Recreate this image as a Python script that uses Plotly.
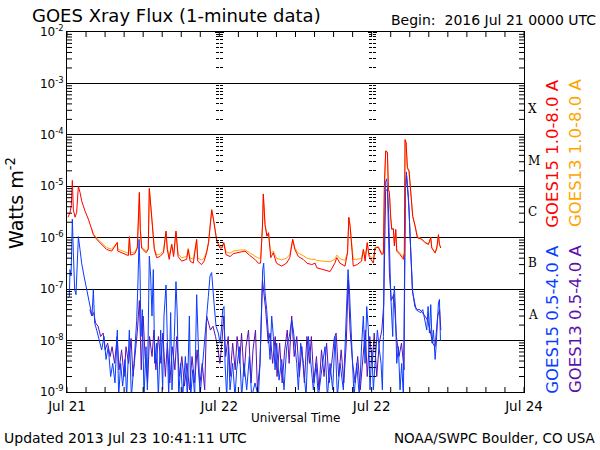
import math
import plotly.graph_objects as go

# hours since 2016 Jul 21 00:00 UTC, flux in W m^-2
# long channel (1.0-8.0 A): GOES15 red, GOES13 orange (starts ~03:50)
t_long = [0.16, 0.47, 0.68, 0.84, 1.0, 1.26, 1.52, 1.79, 2.05, 2.31, 2.84, 3.36,
          3.89, 4.15, 4.68, 5.46, 6.25, 7.04, 7.93, 8.0, 8.88, 9.67, 9.83, 10.0,
          10.7, 11.08, 11.4, 11.55, 11.76, 12.45, 12.8, 12.97, 13.2, 13.5, 13.76, 14.13,
          14.65, 15.2, 15.6, 15.8, 16.1, 16.5, 16.8, 17.17, 17.5, 18.07, 18.85, 19.1,
          19.4, 19.9, 20.43, 20.6, 21.2, 21.6, 22.0, 22.3, 22.8, 23.07, 23.3, 23.6,
          23.85, 24.1, 24.4, 24.7, 25.05, 25.7, 26.2, 27.3, 28.05, 28.8, 29.6, 30.15,
          30.5, 30.8, 30.93, 31.2, 31.5, 31.75, 31.9, 32.1, 32.5, 33.0, 33.8, 34.6,
          35.1, 35.56, 35.9, 36.45, 37.2, 37.8, 38.55, 39.1, 39.35, 40.4, 41.45, 42.2,
          42.5, 43.0, 43.8, 44.2, 44.4, 44.6, 44.9, 45.1, 45.7, 46.4, 46.7, 46.97,
          47.3, 47.6, 48.27, 48.53, 49.06, 49.59, 49.85, 50.0, 50.21, 50.48, 50.64, 50.79,
          51.0, 51.16, 51.42, 51.58, 51.79, 51.95, 52.47, 53.0, 53.15, 53.26, 53.42, 53.63,
          53.89, 54.15, 54.47, 54.84, 55.2, 55.89, 56.41, 56.94, 57.31, 57.47, 58.0, 58.26,
          58.52, 58.68, 58.89]
g15_long = [2.5e-6, 3.1e-6, 4.2e-6, 1.3e-5, 3.5e-6, 2.5e-6, 3.1e-6, 1.0e-5, 7.6e-6, 5.2e-6, 3.3e-6, 2.3e-6,
            1.45e-6, 1.15e-6, 9.3e-7, 7.4e-7, 5.9e-7, 5.5e-7, 8.0e-7, 5.5e-7, 4.9e-7, 4.5e-7, 1.05e-6, 4.6e-7,
            4.9e-7, 6.3e-7, 7.6e-6, 1.45e-6, 6.3e-7, 5.1e-7, 5.9e-7, 9.1e-6, 4.2e-6, 1.7e-6, 5.9e-7, 4.1e-7,
            4.3e-7, 5.1e-7, 1.35e-6, 5.9e-7, 3.8e-7, 7.4e-7, 4.3e-7, 1.35e-6, 4.3e-7, 3.5e-7, 3.8e-7, 5.9e-7,
            3.5e-7, 3.2e-7, 9.3e-7, 3.5e-7, 3.0e-7, 3.5e-7, 5.1e-7, 8.0e-7, 3.5e-6, 2.3e-6, 1.45e-6, 8.6e-7,
            7.4e-7, 6.3e-7, 6.3e-7, 8.0e-7, 4.7e-7, 4.3e-7, 4.9e-7, 5.3e-7, 5.5e-7, 4.5e-7, 3.8e-7, 3.2e-7,
            3.2e-7, 1.7e-6, 7.1e-6, 1.8e-6, 1.07e-6, 1.25e-6, 8.0e-7, 4.1e-7, 5.1e-7, 3.2e-7, 2.8e-7, 3.2e-7,
            4.1e-7, 9.3e-7, 5.9e-7, 4.3e-7, 3.8e-7, 3.2e-7, 3.0e-7, 3.2e-7, 2.6e-7, 2.4e-7, 2.2e-7, 3.2e-7,
            4.1e-7, 3.2e-7, 2.8e-7, 5.1e-7, 2.5e-6, 1.7e-6, 5.1e-7, 2.8e-7, 3.0e-7, 3.5e-7, 5.9e-7, 3.5e-7,
            8.0e-7, 4.3e-7, 3.2e-7, 6.3e-7, 6.5e-7, 4.7e-7, 4.9e-7, 1.0e-5, 4.9e-5, 4.6e-5, 8.7e-6, 7.6e-6,
            2.5e-6, 1.45e-6, 1.5e-6, 6.9e-7, 1.45e-6, 5.5e-7, 4.7e-7, 3.8e-7, 5.1e-7, 8.1e-5, 7.2e-5, 2.3e-5,
            2.0e-5, 6.5e-6, 2.6e-6, 1.7e-6, 1.0e-6, 9.3e-7, 8.0e-7, 7.4e-7, 1.0e-6, 6.3e-7, 5.1e-7, 6.3e-7,
            1.15e-6, 7.4e-7, 6.3e-7]
g13_long = [None] * 12 + [
            1.5e-6, 1.2e-6, 9.8e-7, 7.8e-7, 6.4e-7, 6.0e-7, 8.2e-7, 6.0e-7, 5.4e-7, 5.0e-7, 1.0e-6, 5.1e-7,
            5.3e-7, 6.6e-7, 7.3e-6, 1.5e-6, 6.6e-7, 5.5e-7, 6.2e-7, 8.8e-6, 4.1e-6, 1.75e-6, 6.3e-7, 4.6e-7,
            4.8e-7, 5.5e-7, 1.3e-6, 6.3e-7, 4.4e-7, 7.5e-7, 4.8e-7, 1.3e-6, 4.8e-7, 4.1e-7, 4.3e-7, 6.2e-7,
            4.0e-7, 3.9e-7, 9.0e-7, 4.0e-7, 3.7e-7, 4.0e-7, 5.4e-7, 8.2e-7, 3.4e-6, 2.3e-6, 1.5e-6, 9.0e-7,
            7.6e-7, 6.8e-7, 6.5e-7, 8.0e-7, 5.3e-7, 5.0e-7, 5.5e-7, 5.8e-7, 5.8e-7, 5.0e-7, 4.4e-7, 4.0e-7,
            4.0e-7, 1.7e-6, 6.8e-6, 1.8e-6, 1.1e-6, 1.2e-6, 8.3e-7, 4.9e-7, 5.5e-7, 4.0e-7, 3.7e-7, 4.0e-7,
            4.7e-7, 9.3e-7, 6.3e-7, 5.0e-7, 4.5e-7, 4.0e-7, 3.8e-7, 3.8e-7, 3.6e-7, 3.5e-7, 3.4e-7, 3.8e-7,
            4.6e-7, 3.9e-7, 3.6e-7, 5.3e-7, 2.4e-6, 1.7e-6, 5.5e-7, 3.8e-7, 3.8e-7, 4.0e-7, 6.0e-7, 4.0e-7,
            8.0e-7, 4.6e-7, 3.9e-7, 6.5e-7, 6.7e-7, 5.0e-7, 5.2e-7, 9.5e-6, 4.7e-5, 4.4e-5, 8.5e-6, 7.5e-6,
            2.5e-6, 1.5e-6, 1.5e-6, 7.2e-7, 1.4e-6, 5.8e-7, 5.0e-7, 4.2e-7, 5.3e-7, 7.8e-5, 7.0e-5, 2.2e-5,
            1.9e-5, 6.4e-6, 2.6e-6, 1.7e-6, 1.05e-6, 9.5e-7, 8.2e-7, 7.6e-7, 1.0e-6, 6.5e-7, 5.0e-7, 6.3e-7,
            1.1e-6, 7.4e-7, 6.3e-7]

# short channel (0.5-4.0 A), GOES15 blue
t_g15_short = [0.16, 0.37, 0.47, 0.63, 0.74, 0.84, 1.0, 1.21, 1.42, 1.63, 1.79, 2.05,
               2.31, 2.68, 3.1, 3.52, 3.73, 3.94, 4.15, 4.36, 4.68, 5.1, 5.46, 5.83,
               6.15, 6.5, 6.88, 7.2, 7.56, 7.93, 8.14, 8.45, 8.77, 9.14, 9.4, 9.82,
               10.14, 10.56, 10.98, 11.19, 11.35, 11.5, 11.66, 11.87, 12.13, 12.45, 12.66, 12.97,
               13.18, 13.39, 13.6, 13.81, 14.13, 14.39, 14.76, 15.07, 15.28, 15.6, 15.81, 16.02,
               16.33, 16.54, 16.91, 17.17, 17.38, 17.6, 17.91, 18.23, 18.65, 18.96, 19.28, 19.49,
               19.8, 20.12, 20.43, 20.64, 20.96, 21.38, 21.69, 22.01, 22.27, 22.53, 22.79, 23.16,
               23.48, 23.84, 24.1, 24.32, 24.53, 24.74, 24.9, 25.16, 25.42, 25.68, 26.1, 26.47,
               26.73, 27.15, 27.52, 27.89, 28.31, 28.73, 29.1, 29.62, 30.15, 30.41, 30.67, 30.83,
               30.99, 31.2, 31.46, 31.72, 31.99, 32.25, 32.51, 32.78, 33.04, 33.41, 33.83, 34.19,
               34.61, 35.03, 35.4, 35.66, 35.93, 36.19, 36.45, 36.82, 37.24, 37.66, 38.03, 38.4,
               38.81, 39.23, 39.6, 40.13, 40.65, 41.02, 41.44, 41.86, 42.23, 42.6, 43.02, 43.54,
               43.86, 44.07, 44.28, 44.49, 44.7, 44.91, 45.22, 45.64, 46.06, 46.43, 46.69, 46.96,
               47.22, 47.48, 47.74, 48.01, 48.27, 48.53, 48.9, 49.22, 49.48, 49.69, 49.85, 50.0,
               50.16, 50.37, 50.53, 50.69, 50.84, 51.0, 51.16, 51.32, 51.42, 51.58, 51.74, 51.95,
               52.21, 52.47, 52.73, 53.0, 53.15, 53.31, 53.47, 53.68, 53.89, 54.05, 54.26, 54.47,
               54.68, 55.0, 55.36, 55.73, 56.05, 56.26, 56.47, 56.68, 56.89, 57.1, 57.31, 57.52,
               57.73, 58.0, 58.15, 58.31, 58.52, 58.68, 58.84]
g15_short = [6.8e-8, 7.2e-8, 2.4e-7, 1.8e-7, 5.9e-7, 2.3e-6, 5.1e-7, 9.8e-8, 7.8e-8, 3.2e-7, 1.05e-6, 5.9e-7,
             3.2e-7, 1.8e-7, 9.8e-8, 5.4e-8, 3.7e-8, 3.0e-8, 9.8e-8, 2.2e-8, 1.6e-8, 1.0e-8, 6.6e-9, 1.2e-8,
             4.3e-9, 7.6e-9, 2.0e-9, 3.6e-9, 1.5e-9, 1.6e-8, 8e-10, 3.6e-9, 1.3e-9, 4.3e-9, 8e-10, 1.6e-8,
             8e-10, 3.6e-9, 2.5e-8, 1.5e-7, 9.3e-7, 2.4e-7, 1.2e-8, 4.0e-8, 8e-10, 7.6e-9, 1.1e-9, 4.4e-7,
             1.8e-7, 3.0e-8, 2.4e-7, 3.6e-9, 8.9e-9, 8e-10, 1.6e-8, 1.1e-9, 3.0e-8, 1.2e-7, 1.6e-8, 8e-10,
             3.5e-8, 1.1e-9, 1.2e-8, 1.4e-7, 3.0e-8, 8e-10, 3.6e-9, 8e-10, 4.9e-9, 8e-10, 3.0e-8, 8e-10,
             2.7e-9, 8e-10, 7.8e-8, 7.6e-9, 8e-10, 3.6e-9, 1.2e-8, 3.7e-8, 7.2e-8, 1.8e-7, 2.1e-7, 5.4e-8,
             1.9e-8, 1.4e-8, 8.9e-9, 1.6e-8, 4.0e-8, 4.6e-8, 3.6e-9, 8e-10, 7.6e-9, 1.1e-9, 3.6e-9, 8e-10,
             2.7e-9, 7.6e-9, 8e-10, 3.6e-9, 1.1e-9, 4.9e-9, 8e-10, 1.5e-9, 8e-10, 3.6e-9, 7.2e-8, 2.4e-7,
             3.2e-7, 8.5e-8, 4.0e-8, 1.6e-8, 4.3e-9, 3.0e-8, 1.2e-8, 2.7e-9, 8.9e-9, 1.7e-9, 4.3e-9, 1.1e-9,
             7.6e-9, 1.2e-8, 2.5e-8, 1.6e-8, 7.6e-9, 3.6e-9, 1.1e-9, 8.9e-9, 3.6e-9, 8e-10, 1.2e-8, 3.6e-9,
             1.1e-9, 3.6e-9, 8e-10, 2.7e-9, 7.6e-9, 8e-10, 3.6e-9, 1.1e-9, 1.2e-8, 8e-10, 3.6e-9, 1.1e-9,
             1.6e-8, 7.2e-8, 2.4e-7, 9.8e-8, 3.0e-8, 7.6e-9, 8e-10, 3.6e-9, 8e-10, 8.9e-9, 3.0e-8, 3.6e-9,
             4.6e-8, 1.6e-8, 1.1e-9, 6.6e-9, 1.1e-9, 3.6e-9, 1.6e-8, 6.6e-9, 3.6e-9, 1.1e-9, 1.2e-8, 1.45e-6,
             1.2e-5, 1.4e-5, 7.6e-6, 2.6e-6, 2.4e-7, 7.8e-8, 3.0e-8, 1.2e-8, 5.4e-8, 1.15e-7, 4.0e-8, 3.6e-9,
             7.6e-9, 1.1e-9, 3.6e-9, 8e-10, 7.2e-8, 1.0e-5, 1.9e-5, 8.7e-6, 3.5e-6, 1.07e-6, 2.4e-7, 8.5e-8,
             6.3e-8, 4.0e-8, 3.7e-8, 3.5e-8, 4.0e-8, 3.0e-8, 2.2e-8, 1.6e-8, 4.6e-8, 1.4e-8, 5.0e-8, 8.9e-9,
             1.6e-8, 4.3e-9, 7.6e-9, 1.9e-8, 5.4e-8, 6.3e-8, 1.0e-8]

# short channel, GOES13 purple
t_g13_short = [3.6, 3.9, 4.2, 4.5, 4.9, 5.3, 5.7, 6.0, 6.4, 6.8, 7.1, 7.5,
               7.9, 8.2, 8.6, 9.0, 9.3, 9.7, 10.1, 10.4, 10.8, 11.1, 11.4, 11.7,
               12.0, 12.3, 12.7, 13.0, 13.4, 13.7, 14.0, 14.4, 14.8, 15.1, 15.5, 15.8,
               16.2, 16.6, 17.0, 17.3, 17.7, 18.1, 18.5, 18.9, 19.3, 19.7, 20.1, 20.5,
               20.9, 21.3, 21.7, 22.0, 22.3, 22.6, 23.0, 23.4, 23.8, 24.1, 24.4, 24.7,
               25.0, 25.4, 25.7, 26.1, 26.5, 26.8, 27.2, 27.5, 27.9, 28.2, 28.6, 29.0,
               29.3, 29.7, 30.0, 30.4, 30.8, 31.3, 31.7, 32.0, 32.4, 32.8, 33.1, 33.5,
               33.9, 34.3, 34.7, 35.0, 35.4, 35.8, 36.2, 36.6, 37.0, 37.4, 37.8, 38.2,
               38.5, 38.9, 39.3, 39.7, 40.1, 40.5, 40.9, 41.3, 41.7, 42.1, 42.4, 42.8,
               43.2, 43.6, 44.0, 44.3, 44.6, 45.0, 45.4, 45.8, 46.2, 46.6, 47.0, 47.3,
               47.7, 48.1, 48.4, 48.8, 49.2, 49.6, 49.9, 50.2, 50.5, 50.8, 51.1, 51.5,
               51.9, 52.3, 52.7, 53.1, 53.3, 53.5, 53.8, 54.1, 54.4, 54.8, 55.2, 55.6,
               56.0, 56.4, 56.8, 57.2, 57.6, 58.0, 58.4, 58.7, 58.9]
g13_short = [4.0e-8, 3.0e-8, 3.5e-8, 2.2e-8, 1.9e-8, 1.2e-8, 1.4e-8, 6.6e-9, 8.9e-9, 4.9e-9, 7.6e-9, 3.6e-9,
             1.2e-8, 2.7e-9, 6.6e-9, 2.0e-9, 7.6e-9, 3.6e-9, 1.1e-8, 2.0e-9, 6.6e-9, 1.6e-8, 6.0e-8, 2.7e-9,
             3.0e-8, 4.9e-9, 1.5e-9, 1.2e-8, 4.9e-9, 1.6e-8, 2.7e-9, 1.2e-8, 3.6e-9, 1.4e-8, 2.0e-9, 8.9e-9,
             1.5e-9, 7.6e-9, 2.7e-9, 1.2e-8, 2.0e-9, 4.9e-9, 1.3e-9, 3.6e-9, 1.1e-9, 4.9e-9, 1.5e-9, 6.6e-9,
             1.3e-9, 3.6e-9, 1.1e-9, 3.0e-8, 2.2e-8, 1.6e-8, 1.9e-8, 1.2e-8, 6.6e-9, 3.6e-9, 8.9e-9, 3.0e-8,
             4.9e-9, 1.2e-8, 2.0e-9, 8.9e-9, 2.7e-9, 1.2e-8, 3.6e-9, 1.4e-8, 2.0e-9, 7.6e-9, 1.6e-8, 1.5e-9,
             6.6e-9, 1.6e-8, 1.1e-9, 3.6e-9, 1.5e-7, 4.0e-8, 8.9e-9, 1.4e-8, 3.6e-9, 1.2e-8, 2.0e-9, 8.9e-9,
             1.5e-9, 6.6e-9, 1.6e-8, 3.6e-9, 3.0e-8, 4.9e-9, 1.2e-8, 2.0e-9, 7.6e-9, 1.5e-9, 1.2e-8, 3.6e-9,
             1.2e-8, 1.5e-9, 4.9e-9, 1.1e-9, 6.6e-9, 2.0e-9, 8.9e-9, 1.5e-9, 3.6e-9, 1.1e-8, 1.4e-8, 2.0e-9,
             6.6e-9, 1.5e-9, 8.9e-9, 1.5e-7, 1.6e-8, 3.6e-9, 1.5e-9, 4.9e-9, 1.1e-9, 3.6e-9, 1.6e-8, 2.0e-9,
             1.2e-8, 3.6e-9, 1.4e-8, 2.0e-9, 8.9e-9, 1.6e-8, 5.0e-8, 8.0e-6, 9.0e-6, 2.0e-7, 6.0e-8, 8.0e-8,
             1.2e-8, 4.9e-9, 8.9e-9, 2.7e-9, 8.0e-6, 1.6e-5, 6.0e-6, 8.0e-7, 1.0e-7, 4.6e-8, 4.0e-8, 4.0e-8,
             3.5e-8, 3.0e-8, 2.5e-8, 1.6e-8, 8.9e-9, 7.6e-9, 3.0e-8, 4.0e-8, 1.6e-8]

X_MIN, X_MAX = 0, 72
LOG_MIN, LOG_MAX = -9, -2
day_labels = {0: "Jul 21", 24: "Jul 22", 48: "Jul 22", 72: "Jul 24"}
x_ticks = list(range(X_MIN, X_MAX + 1, 3))
x_text = [day_labels.get(h, "") for h in x_ticks]
decades = list(range(LOG_MIN, LOG_MAX + 1))
y_ticks = [10.0 ** e for e in decades]
y_text = ["10<sup>%d</sup>" % e for e in decades]
y_minor = [k * 10.0 ** e for e in range(LOG_MIN, LOG_MAX) for k in range(2, 10)]
classes = ["X", "M", "C", "B", "A"]
class_levels = [-3.5, -4.5, -5.5, -6.5, -7.5]

RED = "#ff0000"
ORANGE = "#ffa500"
BLUE = "#0a3cff"
PURPLE = "#5c10b0"
FONT = "DejaVu Sans"

W, H = 600, 450
ML, MR, MT, MB = 67, 76, 32, 58
PLOT_W, PLOT_H = W - ML - MR, H - MT - MB
TICK = 5   # inward tick length on the frame, px

fig = go.Figure()
fig.add_trace(go.Scatter(x=t_g13_short, y=g13_short, mode="lines", line=dict(color=PURPLE, width=1)))
fig.add_trace(go.Scatter(x=t_g15_short, y=g15_short, mode="lines", line=dict(color=BLUE, width=1)))
fig.add_trace(go.Scatter(x=t_long, y=g13_long, mode="lines", line=dict(color=ORANGE, width=1)))
fig.add_trace(go.Scatter(x=t_long, y=g15_long, mode="lines", line=dict(color=RED, width=1)))

fig.update_layout(
    width=W, height=H,
    margin=dict(l=ML, r=MR, t=MT, b=MB),
    paper_bgcolor="white", plot_bgcolor="white",
    showlegend=False,
    font=dict(family=FONT, color="black"),
    xaxis=dict(range=[X_MIN, X_MAX], tickmode="array", tickvals=x_ticks, ticktext=x_text,
               ticks="", showline=True, linecolor="black", linewidth=1, mirror=True,
               showgrid=False, zeroline=False, tickfont=dict(size=13.5), ticklabelstandoff=2),
    yaxis=dict(type="log", range=[LOG_MIN, LOG_MAX], tickmode="array", tickvals=y_ticks,
               ticktext=y_text, ticks="", showline=True, linecolor="black", linewidth=1,
               mirror=True, showgrid=True, gridcolor="black", gridwidth=1, zeroline=False,
               tickfont=dict(size=12)),
)

# inward frame ticks drawn as short line shapes in paper coordinates
tick_dx = TICK / PLOT_W
tick_dy = TICK / PLOT_H
line_style = dict(color="black", width=1)
for v in y_minor:
    yp = (math.log10(v) - LOG_MIN) / (LOG_MAX - LOG_MIN)
    fig.add_shape(type="line", xref="paper", yref="paper", x0=0, x1=tick_dx, y0=yp, y1=yp,
                  line=line_style, layer="above")
    fig.add_shape(type="line", xref="paper", yref="paper", x0=1 - tick_dx, x1=1, y0=yp, y1=yp,
                  line=line_style, layer="above")
for h in x_ticks:
    fig.add_shape(type="line", xref="x", yref="paper", x0=h, x1=h, y0=0, y1=tick_dy,
                  line=line_style, layer="above")
    fig.add_shape(type="line", xref="x", yref="paper", x0=h, x1=h, y0=1 - tick_dy, y1=1,
                  line=line_style, layer="above")

# tick marks repeated on the day boundaries (free axes, each needs a trace)
n = 2
for pos in [1 / 3, 2 / 3]:
    for side in ["left", "right"]:
        fig.layout["yaxis%d" % n] = dict(
            type="log", range=[LOG_MIN, LOG_MAX], tickmode="array", tickvals=y_ticks,
            overlaying="y", anchor="free", position=pos, side=side,
            ticks="outside", ticklen=4, tickcolor="black", showticklabels=False,
            showline=False, showgrid=False, zeroline=False,
            minor=dict(tickmode="array", tickvals=y_minor, ticks="outside", ticklen=3,
                       tickcolor="black", showgrid=False))
        fig.add_trace(go.Scatter(x=[None], y=[None], yaxis="y%d" % n, mode="lines",
                                 hoverinfo="skip"))
        n += 1

def note(text, x, y, size, color="black", xanchor="center", angle=0, family=FONT, yref="paper"):
    fig.add_annotation(text=text, x=x, y=y, xref="paper", yref=yref, showarrow=False,
                       xanchor=xanchor, yanchor="middle", textangle=angle,
                       font=dict(size=size, color=color, family=family))

note("GOES Xray Flux (1-minute data)", -0.081, 1.045, 18, xanchor="left")
note("Begin:  2016 Jul 21 0000 UTC", 1.162, 1.033, 14, xanchor="right")
note("Updated 2013 Jul 23 10:41:11 UTC", -0.142, -0.128, 14, xanchor="left")
note("NOAA/SWPC Boulder, CO USA", 1.162, -0.128, 13.5, xanchor="right")
note("Universal Time", 0.501, -0.072, 12)
note("Watts m<sup>-2</sup>", -0.114, 0.525, 19, angle=-90)
note("GOES15 1.0-8.0 A", 1.063, 0.664, 16.5, color=RED, angle=-90)
note("GOES13 1.0-8.0 A", 1.114, 0.664, 16.5, color=ORANGE, angle=-90)
note("GOES15 0.5-4.0 A", 1.063, 0.203, 16.5, color=BLUE, angle=-90)
note("GOES13 0.5-4.0 A", 1.114, 0.203, 16.5, color=PURPLE, angle=-90)
for c, lv in zip(classes, class_levels):
    note(c, 1.005, lv, 12, xanchor="left", family="DejaVu Serif", yref="y")

# page body has a default 8px margin; drop it so the figure sits at the corner
fig.write_html("out.html", config={"displayModeBar": False},
               post_script="document.body.style.margin='0';")
